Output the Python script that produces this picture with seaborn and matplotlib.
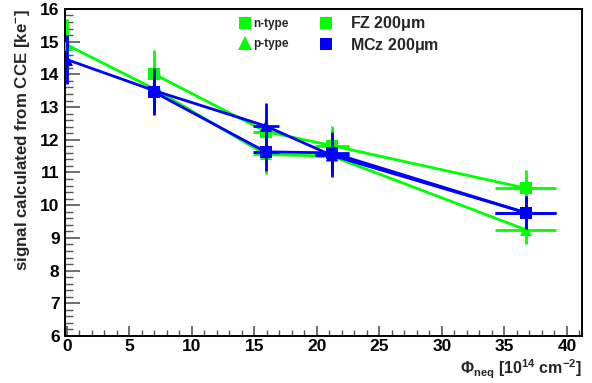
import numpy as np
import pandas as pd
import matplotlib
matplotlib.use("Agg")
import matplotlib.pyplot as plt
from matplotlib.lines import Line2D
from matplotlib.ticker import MultipleLocator
import seaborn as sns

# Datos (fluencia en 1e14 cm^-2, senal en ke-)
fz_p_x = [0.0, 7.0, 15.9, 21.2, 36.7]
fz_p_y = [14.9, 13.55, 11.55, 11.5, 9.25]
fz_p_ey = [0.8, 0.75, 0.6, 0.6, 0.45]

fz_n_x = [7.0, 15.9, 21.2, 36.7]
fz_n_y = [14.0, 12.25, 11.82, 10.52]
fz_n_ey = [0.75, 0.65, 0.6, 0.55]

mcz_p_x = [0.0, 7.0, 15.9, 21.2, 36.7]
mcz_p_y = [14.45, 13.5, 12.42, 11.52, 9.77]
mcz_p_ey = [0.75, 0.7, 0.7, 0.65, 0.5]

mcz_n_x = [7.0, 15.9, 21.2, 36.7]
mcz_n_y = [13.45, 11.63, 11.6, 9.77]
mcz_n_ey = [0.7, 0.6, 0.65, 0.5]

# error horizontal por punto de fluencia
fluencia = [0.0, 7.0, 15.9, 21.2, 36.7]
fluencia_err = [0.0, 0.45, 1.05, 1.35, 2.45]

verde = "#00FF00"
azul = "#0000FF"

series = [
    ("FZ p-type", fz_p_x, fz_p_y, fz_p_ey, verde, "^"),
    ("FZ n-type", fz_n_x, fz_n_y, fz_n_ey, verde, "s"),
    ("MCz p-type", mcz_p_x, mcz_p_y, mcz_p_ey, azul, "^"),
    ("MCz n-type", mcz_n_x, mcz_n_y, mcz_n_ey, azul, "s"),
]

sns.set_theme(style="ticks")
plt.rcParams["font.family"] = ["Liberation Sans", "DejaVu Sans"]
plt.rcParams["font.weight"] = "bold"
plt.rcParams["mathtext.fontset"] = "custom"
plt.rcParams["mathtext.rm"] = "Liberation Sans:bold"
plt.rcParams["mathtext.it"] = "Liberation Sans:bold"
plt.rcParams["mathtext.bf"] = "Liberation Sans:bold"

fig = plt.figure(figsize=(5.92, 3.83), dpi=100)
ax = fig.add_axes([0.110, 0.1227, 0.873, 0.854])

for nombre, xs, ys, eys, color, marca in series:
    df = pd.DataFrame({"x": xs, "y": ys})
    exs = [fluencia_err[fluencia.index(v)] for v in xs]
    sns.lineplot(data=df, x="x", y="y", ax=ax, color=color, lw=2.0,
                 sort=False, marker=marca, markersize=9, markeredgewidth=0,
                 markerfacecolor=color, zorder=3)
    ax.errorbar(xs, ys, yerr=eys, xerr=exs, fmt="none", ecolor=color,
                elinewidth=2.0, capsize=0, zorder=3)

ax.set_xlim(-0.15, 41.2)
ax.set_ylim(6, 16)
ax.xaxis.set_major_locator(MultipleLocator(5))
ax.xaxis.set_minor_locator(MultipleLocator(1))
ax.yaxis.set_major_locator(MultipleLocator(1))
ax.yaxis.set_minor_locator(MultipleLocator(0.2))
ax.tick_params(axis="both", which="both", direction="in", top=False, right=False,
               colors="#555555", labelcolor="black", labelsize=12.5)
ax.tick_params(axis="y", which="major", length=11, width=1.2, pad=4)
ax.tick_params(axis="y", which="minor", length=6, width=1.0)
ax.tick_params(axis="x", which="major", length=7, width=1.2, pad=2)
ax.tick_params(axis="x", which="minor", length=4, width=1.0)
for lado in ax.spines.values():
    lado.set_linewidth(1.4)
    lado.set_color("black")

ax.set_ylabel(r"signal calculated from CCE [ke$^{-}$]", fontsize=12.2,
              fontweight="bold", loc="top", labelpad=6)
ax.set_xlabel(r"$\Phi_{neq}$ [10$^{14}$ cm$^{-2}$]", fontsize=11.5,
              fontweight="bold", loc="right", labelpad=3)

# leyendas estilo ROOT
tipo = [
    Line2D([], [], ls="none", marker="s", color=verde, markersize=9, markeredgewidth=0),
    Line2D([], [], ls="none", marker="^", color=verde, markersize=10, markeredgewidth=0),
]
leg1 = ax.legend(tipo, ["n-type", "p-type"], loc="upper left",
                 bbox_to_anchor=(0.322, 0.998), frameon=False,
                 prop={"size": 8.5, "weight": "bold"}, handlelength=0.8,
                 handletextpad=0.35, labelspacing=0.7, borderaxespad=0.3)
ax.add_artist(leg1)
material = [
    Line2D([], [], ls="none", marker="s", color=verde, markersize=9, markeredgewidth=0),
    Line2D([], [], ls="none", marker="s", color=azul, markersize=9, markeredgewidth=0),
]
ax.legend(material, [r"FZ 200$\mu$m", r"MCz 200$\mu$m"], loc="upper left",
          bbox_to_anchor=(0.467, 1.018), frameon=False,
          prop={"size": 11.5, "weight": "bold"}, handlelength=1.0,
          handletextpad=1.0, labelspacing=0.15, borderaxespad=0.3)

fig.savefig("out.png", dpi=100)
